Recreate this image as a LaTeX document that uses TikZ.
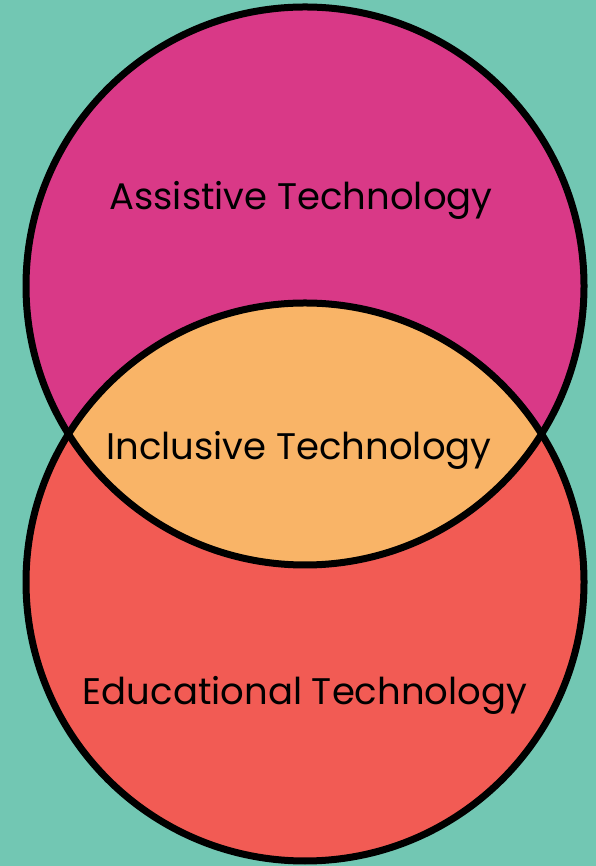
\documentclass[tikz,border=0pt]{standalone}
\usepackage{fontspec}
\newfontfamily\vennfont{Poppins}
\definecolor{sea}{RGB}{114,199,179}
\definecolor{atpink}{RGB}{217,57,135}
\definecolor{etred}{RGB}{242,91,84}
\definecolor{itorange}{RGB}{249,180,103}
\tikzset{
  vtext/.style={anchor=base,font=\vennfont\fontsize{37}{41}\selectfont,text=black}
}
\begin{document}
\begin{tikzpicture}[x=1pt,y=1pt]
  \fill[sea] (0,0) rectangle (596,866);
  \useasboundingbox (0,0) rectangle (596,866);

  \filldraw[atpink] (305,580) circle (279);
  \filldraw[etred] (305,284) circle (279);
  \begin{scope}
    \clip (305,580) circle (279);
    \fill[itorange] (305,284) circle (279);
  \end{scope}
  \draw[line width=7pt] (305,580) circle (279);
  \draw[line width=7pt] (305,284) circle (279);

  \node[vtext] (at) at (301,656) {Assistive Technology};
  \node[vtext] (it) at (299,406) {Inclusive Technology};
  \node[vtext] (et) at (305,161) {Educational Technology};
\end{tikzpicture}
\end{document}
